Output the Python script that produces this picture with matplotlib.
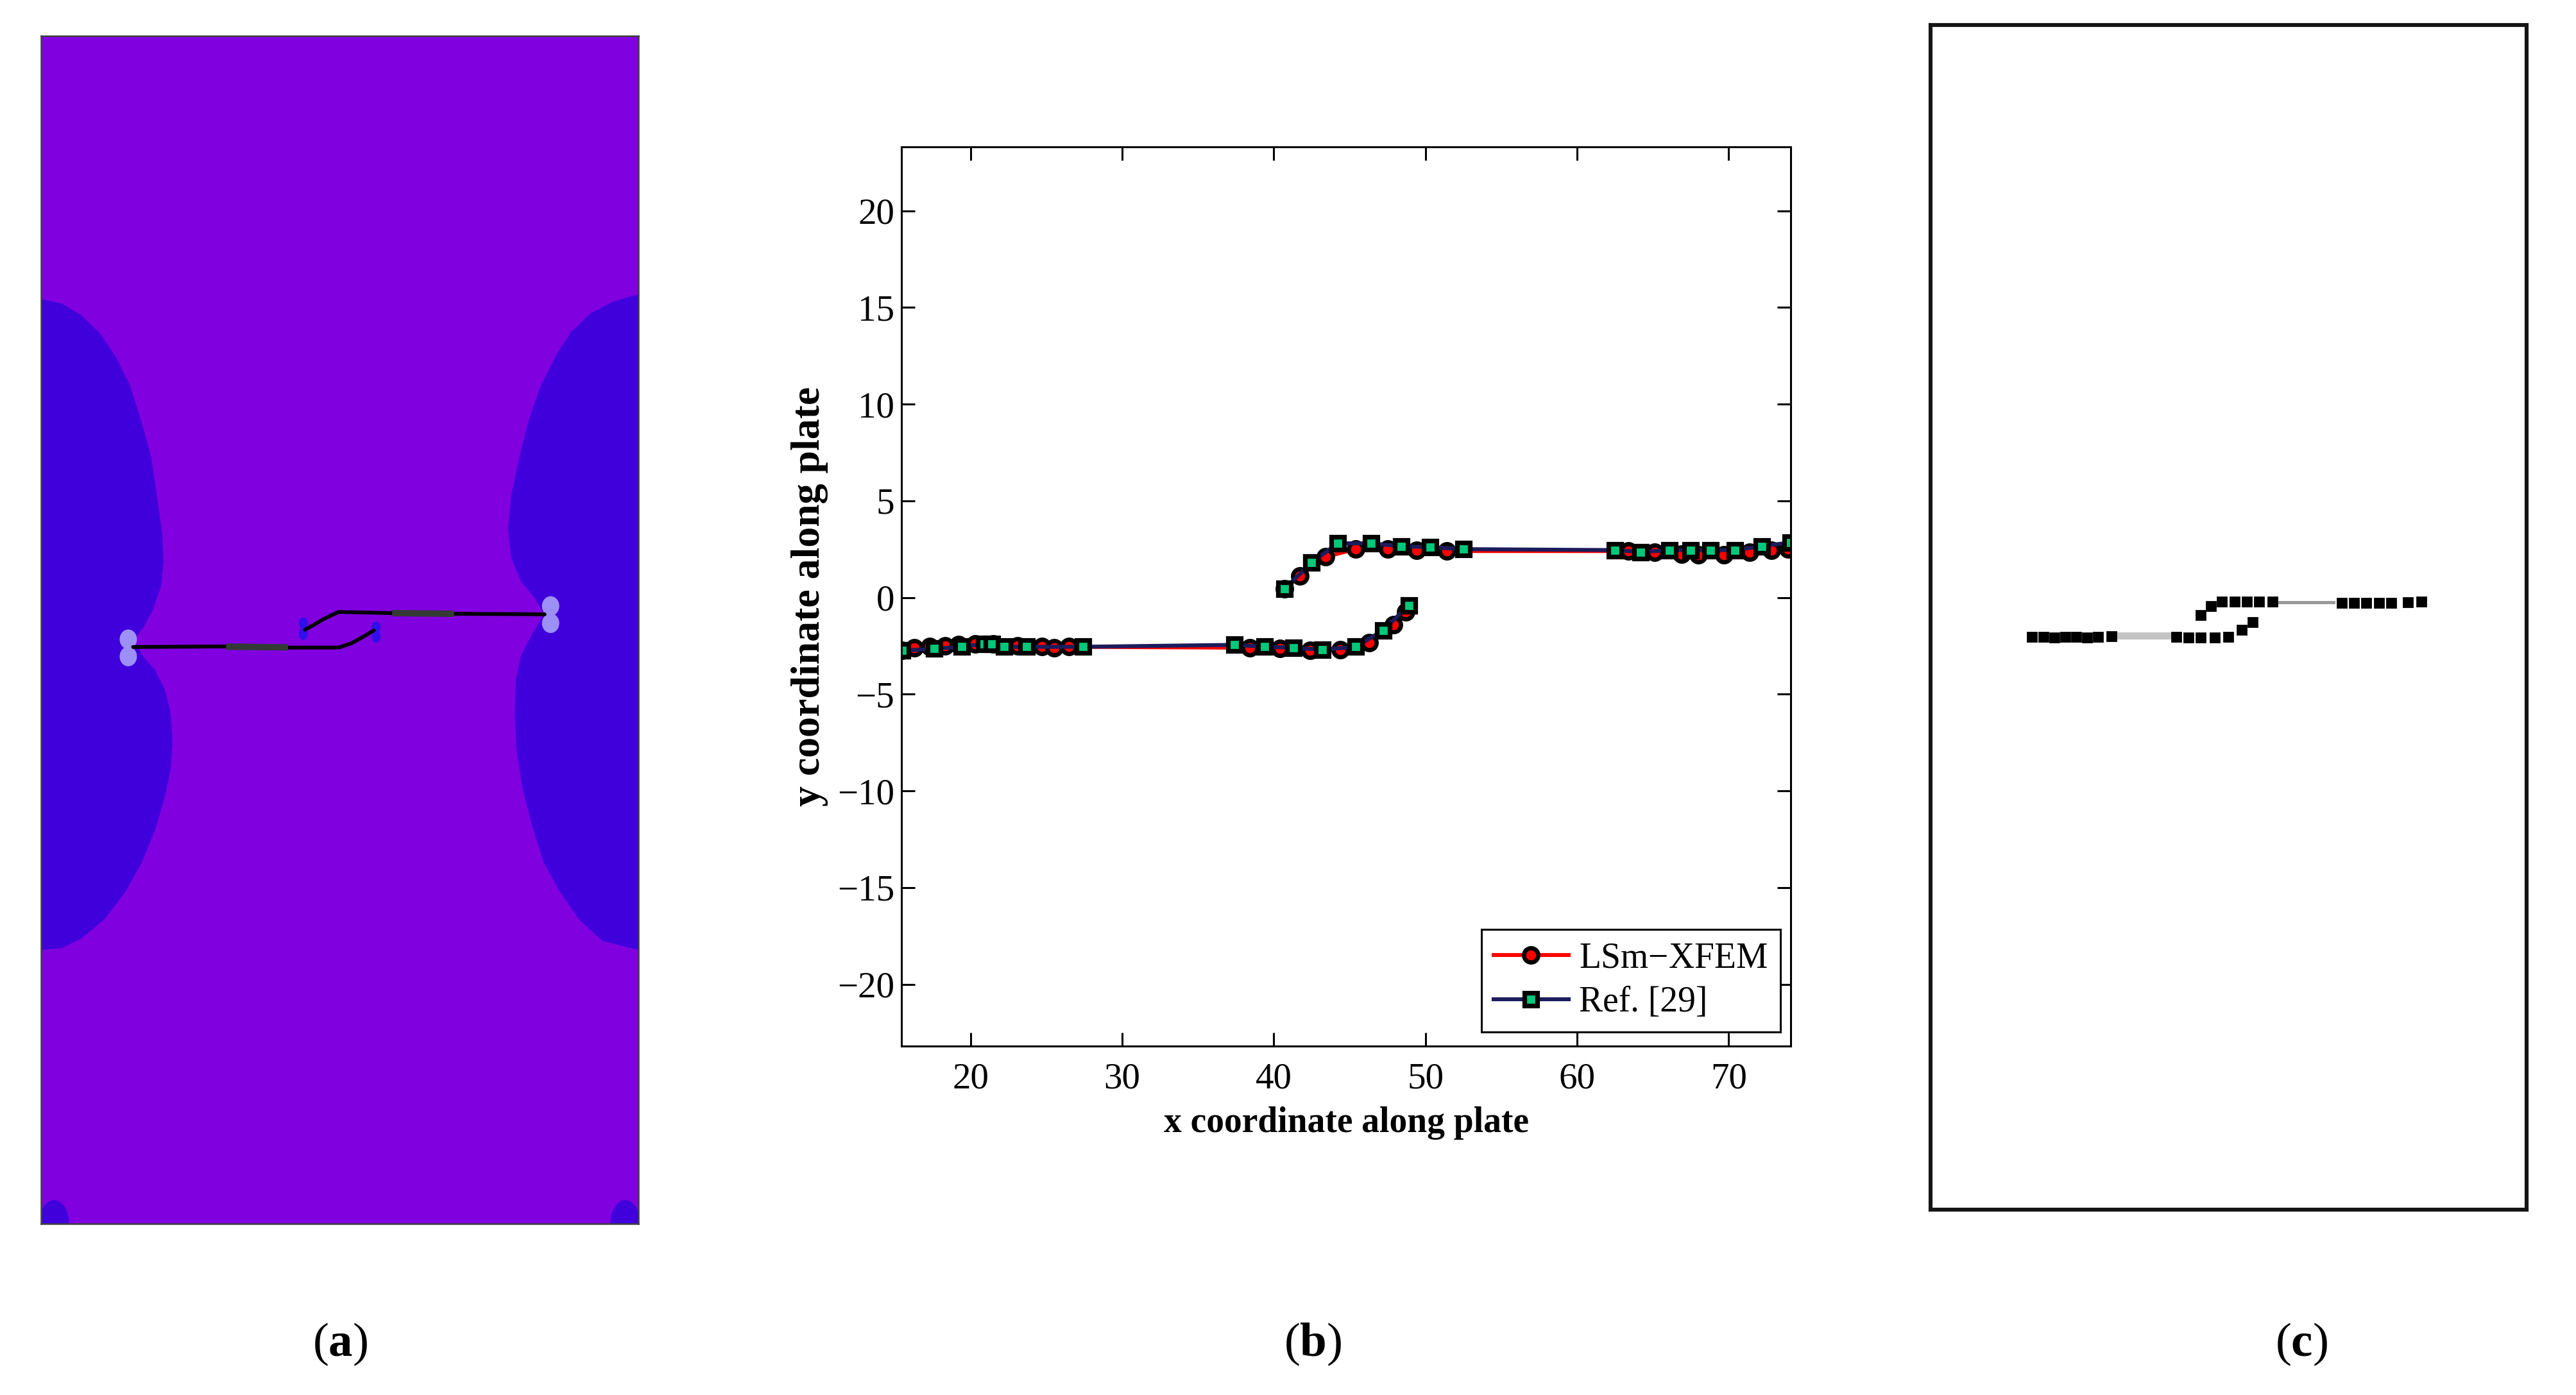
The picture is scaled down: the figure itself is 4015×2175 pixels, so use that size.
import matplotlib
matplotlib.use('Agg')
import matplotlib.pyplot as plt
from matplotlib.patches import Ellipse

plt.rcParams['font.family'] = ['Liberation Serif', 'DejaVu Serif']
plt.rcParams['mathtext.fontset'] = 'custom'
plt.rcParams['mathtext.rm'] = 'Liberation Serif'
plt.rcParams['mathtext.bf'] = 'Liberation Serif:bold'

# ---- panel (b): crack paths, LSm-XFEM vs Ref. [29]
xfem_lo_x = [15.5, 16.3, 17.3, 18.3, 19.2, 20.3, 21.5, 23.1, 24.7, 25.5, 26.5,
             38.4, 40.4, 42.4, 44.4, 46.3, 47.9, 48.7]
xfem_lo_y = [-2.75, -2.6, -2.55, -2.5, -2.45, -2.4, -2.4, -2.5, -2.55, -2.6, -2.55,
             -2.6, -2.65, -2.75, -2.7, -2.35, -1.4, -0.75]
xfem_up_x = [40.7, 41.7, 43.4, 45.4, 47.5, 49.4, 51.4, 63.4, 65.1, 66.9, 68.0,
             69.7, 71.4, 72.8, 73.9]
xfem_up_y = [0.45, 1.1, 2.1, 2.5, 2.5, 2.45, 2.4, 2.4, 2.35, 2.25, 2.2,
             2.2, 2.35, 2.45, 2.5]

ref_lo_x = [15.5, 17.6, 19.4, 20.9, 21.4, 22.2, 23.7, 27.4, 37.4, 39.4, 41.3,
            43.2, 45.4, 47.2, 48.9]
ref_lo_y = [-2.75, -2.65, -2.55, -2.4, -2.4, -2.55, -2.55, -2.55, -2.45, -2.55, -2.6,
            -2.7, -2.55, -1.7, -0.4]
ref_up_x = [40.7, 42.5, 44.2, 46.4, 48.4, 50.3, 52.5, 62.5, 64.2, 66.1, 67.5,
            68.8, 70.4, 72.2, 74.1]
ref_up_y = [0.45, 1.8, 2.8, 2.8, 2.65, 2.6, 2.5, 2.45, 2.35, 2.45, 2.45,
            2.45, 2.45, 2.65, 2.85]

x_ticks = [20, 30, 40, 50, 60, 70]
y_ticks = [-20, -15, -10, -5, 0, 5, 10, 15, 20]

# ---- panel (a): contour plot outline (plate 100 x 200)
left_lobe_x = [0, 3.5, 6.7, 10.0, 12.6, 14.9, 16.8, 18.5, 19.4, 20.3, 20.5, 20.1,
               18.8, 17.1, 15.5, 17.1, 19.1, 20.7, 21.7, 22.0, 21.7, 20.7, 19.1,
               16.8, 14.2, 10.6, 6.7, 3.5, 0]
left_lobe_y = [155.7, 154.9, 153.0, 149.8, 145.8, 141.1, 135.1, 128.8, 122.5, 116.1,
               111.4, 107.4, 103.5, 100.3, 98.3, 95.5, 93.2, 90.0, 86.0, 81.3, 76.5,
               71.8, 66.3, 60.7, 56.0, 51.2, 48.0, 46.4, 46.1]
right_lobe_x = [100, 95.9, 92.0, 88.8, 86.2, 83.5, 81.6, 80.0, 78.7, 78.2, 78.7,
                80.3, 82.6, 84.2, 81.9, 80.3, 79.5, 79.3, 79.6, 80.6, 82.2, 84.2,
                86.8, 90.1, 94.0, 100]
right_lobe_y = [156.5, 155.3, 153.3, 150.2, 146.2, 140.7, 135.1, 128.8, 122.5, 116.9,
                112.2, 108.2, 105.4, 102.7, 98.7, 95.5, 91.6, 86.0, 79.7, 73.4, 67.0,
                60.7, 56.0, 51.2, 47.6, 46.1]

crack1_x = [15.4, 31.3, 41.1, 49.8, 51.9, 53.9, 55.7]
crack1_y = [97.1, 97.2, 97.0, 97.0, 97.7, 98.8, 99.9]
crack2_x = [44.2, 47.3, 49.8, 59.1, 68.9, 84.3]
crack2_y = [100.0, 101.8, 103.0, 102.8, 102.7, 102.6]
seg1_x, seg1_y = [31.5, 40.8], [97.15, 97.05]
seg2_x, seg2_y = [59.3, 68.6], [102.8, 102.7]

# ---- panel (c): experimental crack path (same plate frame)
c_lo_x = [17.0, 19.0, 20.8, 22.6, 24.4, 26.3, 28.1, 30.4, 41.2, 43.3, 45.3,
          47.7, 50.0, 52.2, 54.0]
c_lo_y = [96.7, 96.7, 96.6, 96.7, 96.7, 96.6, 96.7, 96.8, 96.7, 96.6, 96.6,
          96.6, 96.7, 97.9, 99.2]
c_up_x = [45.3, 47.1, 48.9, 51.0, 53.1, 55.1, 57.4, 69.0, 71.1, 73.1, 75.2,
          77.3, 80.1, 82.4]
c_up_y = [100.4, 101.9, 102.7, 102.7, 102.7, 102.6, 102.6, 102.4, 102.4, 102.4,
          102.4, 102.4, 102.5, 102.6]
c_gap_lo_x, c_gap_lo_y = [31.2, 40.7], [96.9, 96.9]
c_gap_up_x, c_gap_up_y = [58.6, 67.6], [102.5, 102.5]

fig = plt.figure(figsize=(20.075, 10.875), dpi=200)

# ================= (a)
axa = fig.add_axes([0.01594, 0.1228, 0.2319, 0.8515])
axa.set_facecolor('#8000e0')
axa.fill(left_lobe_x, left_lobe_y, color='#4000dc', lw=0)
axa.fill(right_lobe_x, right_lobe_y, color='#4000dc', lw=0)
for cx in [2.2, 97.8]:
    axa.add_patch(Ellipse((cx, 0), 5.0, 8.0, color='#4000dc', lw=0))
for cx, cy in [(14.6, 98.4), (14.6, 95.5), (85.3, 104.0), (85.3, 101.1)]:
    axa.add_patch(Ellipse((cx, cy), 2.9, 3.3, color='#9c90f6', lw=0))
for cx, cy in [(43.9, 101.1), (43.9, 99.3), (56.1, 100.4), (56.1, 98.8)]:
    axa.add_patch(Ellipse((cx, cy), 1.5, 2.0, color='#3010e8', lw=0))
axa.plot(crack1_x, crack1_y, color='black', lw=2.1, solid_capstyle='round')
axa.plot(crack2_x, crack2_y, color='black', lw=2.1, solid_capstyle='round')
axa.plot(seg1_x, seg1_y, color='#343a36', lw=3.6)
axa.plot(seg2_x, seg2_y, color='#343a36', lw=3.6)
axa.set_xlim(0, 100)
axa.set_ylim(0, 200)
axa.set_xticks([])
axa.set_yticks([])
for s in axa.spines.values():
    s.set_color('#404040')
    s.set_linewidth(0.9)

# ================= (b)
axb = fig.add_axes([0.3500, 0.2501, 0.3452, 0.6446])
mk_c = dict(marker='o', markersize=8, markerfacecolor='red',
            markeredgecolor='black', markeredgewidth=2.4)
mk_s = dict(marker='s', markersize=7.5, markerfacecolor='#00c87a',
            markeredgecolor='black', markeredgewidth=2.6)
axb.plot(xfem_lo_x, xfem_lo_y, color='red', lw=2.2, label='LSm$-$XFEM', **mk_c)
axb.plot(xfem_up_x, xfem_up_y, color='red', lw=2.2, **mk_c)
axb.plot(ref_lo_x, ref_lo_y, color='#1c1c5c', lw=2.2, label='Ref. [29]', **mk_s)
axb.plot(ref_up_x, ref_up_y, color='#1c1c5c', lw=2.2, **mk_s)
axb.set_xlim(15.45, 74.1)
axb.set_ylim(-23.2, 23.3)
axb.set_xticks(x_ticks)
axb.set_yticks(y_ticks)
axb.tick_params(direction='in', length=7.5, width=1.1, top=True, right=True,
                labelsize=20.5)
axb.tick_params(axis='x', pad=9)
axb.tick_params(axis='y', pad=4)
for s in axb.spines.values():
    s.set_linewidth(1.1)
axb.set_xlabel('x coordinate along plate', fontsize=20, fontweight='bold', labelpad=6)
axb.set_ylabel('y coordinate along plate', fontsize=23, fontweight='bold', labelpad=5)
leg = axb.legend(loc='lower right', bbox_to_anchor=(0.988, 0.016), borderaxespad=0,
                 fontsize=20, numpoints=1, handlelength=2.1, fancybox=False,
                 framealpha=1, edgecolor='black', borderpad=0.35, labelspacing=0.3,
                 handletextpad=0.3)
leg.get_frame().set_linewidth(1.1)

# ================= (c)
axc = fig.add_axes([0.7494, 0.1329, 0.2314, 0.8492])
axc.plot(c_gap_lo_x, c_gap_lo_y, color='#c4c4c4', lw=4)
axc.plot(c_gap_up_x, c_gap_up_y, color='#9a9a9a', lw=1.8)
axc.plot(c_lo_x, c_lo_y, ls='none', marker='s', markersize=4.8, color='black')
axc.plot(c_up_x, c_up_y, ls='none', marker='s', markersize=4.8, color='black')
axc.set_xlim(0, 100)
axc.set_ylim(0, 200)
axc.set_xticks([])
axc.set_yticks([])
for s in axc.spines.values():
    s.set_color('#151515')
    s.set_linewidth(2.2)

# panel letters
for xf, letter in [(0.132, 'a'), (0.5096, 'b'), (0.8934, 'c')]:
    fig.text(xf, 0.0363, '(' + r'$\mathbf{' + letter + '}$' + ')', fontsize=27,
             ha='center', va='center')

fig.savefig('out.png', dpi=200)
